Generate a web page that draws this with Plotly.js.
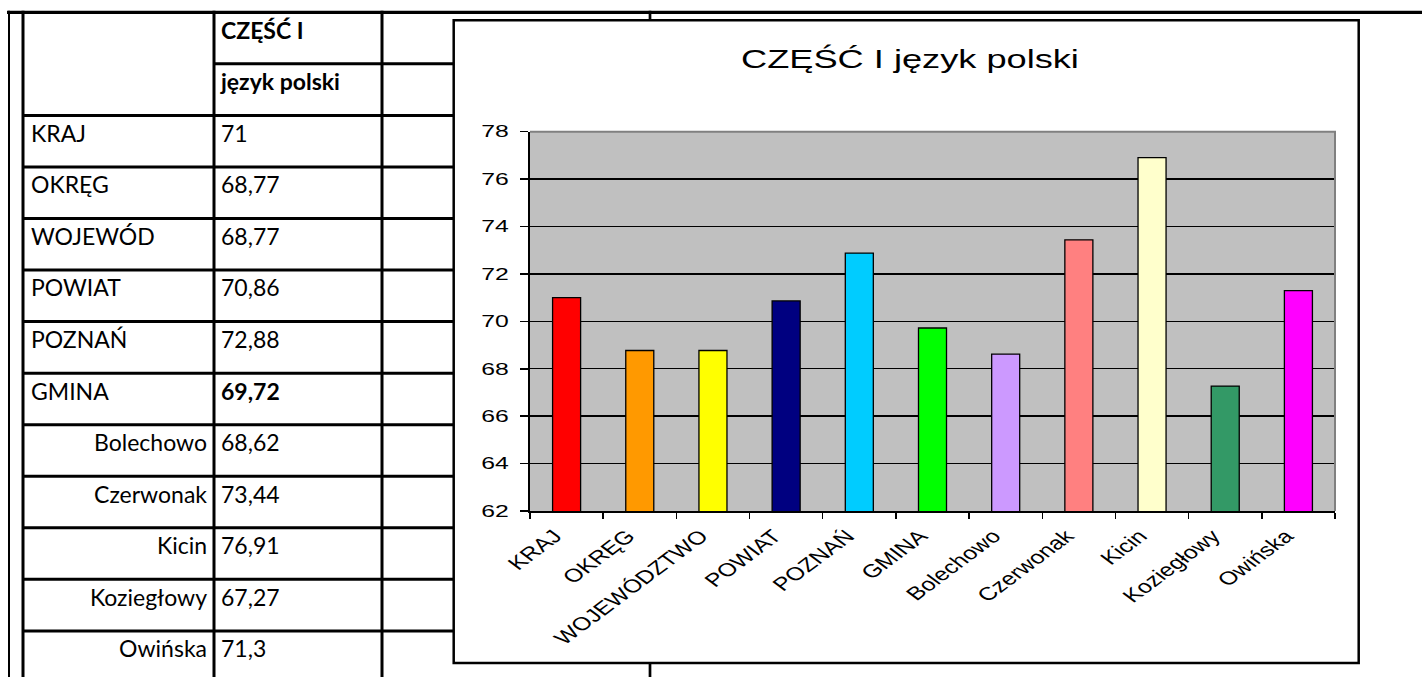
<!DOCTYPE html>
<html><head><meta charset="utf-8">
<script src="https://cdn.plot.ly/plotly-3.0.1.min.js"></script>
<style>html,body{margin:0;padding:0;background:#fff;overflow:hidden}</style>
</head><body>
<div id="chart" style="width:1422px;height:677px"></div>
<script>
// ---------------- data ----------------
const chartTitle = 'CZĘŚĆ I język polski';
const headerLines = ['CZĘŚĆ I', 'język polski'];
const categories = ['KRAJ', 'OKRĘG', 'WOJEWÓDZTWO', 'POWIAT', 'POZNAŃ', 'GMINA',
                    'Bolechowo', 'Czerwonak', 'Kicin', 'Koziegłowy', 'Owińska'];
const tableLabels = ['KRAJ', 'OKRĘG', 'WOJEWÓD', 'POWIAT', 'POZNAŃ', 'GMINA',
                     'Bolechowo', 'Czerwonak', 'Kicin', 'Koziegłowy', 'Owińska'];
const scores = [71, 68.77, 68.77, 70.86, 72.88, 69.72, 68.62, 73.44, 76.91, 67.27, 71.3];
const isGminaPart = [false, false, false, false, false, false, true, true, true, true, true];
const isBoldValue = [false, false, false, false, false, true, false, false, false, false, false];
const barColors = ['#FF0000', '#FF9900', '#FFFF00', '#000080', '#00CCFF', '#00FF00',
                   '#CC99FF', '#FF8080', '#FFFFCC', '#339966', '#FF00FF'];
const yRange = [62, 78];
const yStep = 2;

// ---------------- page geometry (style) ----------------
const W = 1422, H = 677;
const px = v => v / W;           // x pixel -> paper
const py = v => 1 - v / H;       // y pixel -> paper
const ROW_H = 51.55, ROW_TOP = 12.3;   // table row pitch
const HEADER_ROWS = headerLines.length;
const TOTAL_ROWS = HEADER_ROWS + tableLabels.length;
const COL = {outer: 9, left: 23, mid: 214, right3: 382, end: 650};
const TXT = {label: 31, subRight: 207, value: 221};
const tableFont = {family: 'Lato, "Open Sans", sans-serif', size: 23, color: '#000'};
const chartFontFamily = '"Liberation Sans", Arial, sans-serif';

const fmt = v => String(v).replace('.', ',');

// ---------------- traces ----------------
const bars = {
  type: 'bar', x: categories, y: scores, xaxis: 'x', yaxis: 'y',
  marker: {color: barColors, line: {color: '#000', width: 1.3}},
  hoverinfo: 'skip', showlegend: false
};

const rowY = i => HEADER_ROWS + i + 0.40;

const leftIdx = tableLabels.map((_, i) => i).filter(i => !isGminaPart[i]);
const rightIdx = tableLabels.map((_, i) => i).filter(i => isGminaPart[i]);

const labelLeft = {
  type: 'scatter', mode: 'text', xaxis: 'x2', yaxis: 'y2',
  x: leftIdx.map(() => TXT.label), y: leftIdx.map(rowY),
  text: leftIdx.map(i => tableLabels[i]), textposition: 'middle right',
  textfont: tableFont, cliponaxis: false, hoverinfo: 'skip', showlegend: false
};
const labelRight = {
  type: 'scatter', mode: 'text', xaxis: 'x2', yaxis: 'y2',
  x: rightIdx.map(() => TXT.subRight), y: rightIdx.map(rowY),
  text: rightIdx.map(i => tableLabels[i]), textposition: 'middle left',
  textfont: tableFont, cliponaxis: false, hoverinfo: 'skip', showlegend: false
};
const valueCol = {
  type: 'scatter', mode: 'text', xaxis: 'x2', yaxis: 'y2',
  x: headerLines.map(() => TXT.value).concat(scores.map(() => TXT.value)),
  y: headerLines.map((_, r) => r + 0.40).concat(scores.map((_, i) => rowY(i))),
  text: headerLines.map(h => '<b>' + h + '</b>')
        .concat(scores.map((v, i) => isBoldValue[i] ? '<b>' + fmt(v) + '</b>' : fmt(v))),
  textposition: 'middle right',
  textfont: tableFont, cliponaxis: false, hoverinfo: 'skip', showlegend: false
};

// ---------------- shapes ----------------
const shapes = [];
// horizontal table lines (row boundaries, on the row axis)
for (let k = 0; k <= TOTAL_ROWS; k++) {
  let x0 = COL.left, x1 = COL.end, w = 3;
  if (k === 0) { x0 = 7; x1 = W; w = 3.3; }
  else if (k === 1) { x0 = COL.mid; }
  shapes.push({type: 'line', xref: 'paper', yref: 'y2', x0: px(x0), x1: px(x1), y0: k, y1: k,
               line: {color: '#000', width: w}, layer: 'below'});
}
// vertical table lines
[[COL.outer, 2], [COL.left, 3], [COL.mid, 3], [COL.right3, 3], [COL.end, 2.7]].forEach(([x, w]) => {
  shapes.push({type: 'line', xref: 'paper', yref: 'y2', x0: px(x), x1: px(x), y0: -0.03, y1: TOTAL_ROWS + 0.5,
               line: {color: '#000', width: w}, layer: 'below'});
});
// chart frame (white box over the table)
shapes.push({type: 'rect', xref: 'paper', yref: 'paper', x0: px(453.7), x1: px(1358.7), y0: py(663), y1: py(20.3),
             fillcolor: '#fff', line: {color: '#000', width: 2.5}, layer: 'below'});
// plot-area fill
shapes.push({type: 'rect', xref: 'x domain', yref: 'y domain', x0: 0, x1: 1, y0: 0, y1: 1,
             fillcolor: '#C0C0C0', line: {width: 0}, layer: 'below'});
// plot-area top/right border (grey)
shapes.push({type: 'path', xref: 'x domain', yref: 'y domain', path: 'M0,1 L1,1 L1,0',
             line: {color: '#808080', width: 2}, layer: 'above'});

// ---------------- layout ----------------
const layout = {
  width: W, height: H, autosize: false,
  margin: {l: 0, r: 0, t: 0, b: 0, pad: 0},
  paper_bgcolor: '#fff', plot_bgcolor: 'rgba(0,0,0,0)',
  font: {family: chartFontFamily, color: '#000'},
  showlegend: false, hovermode: false, bargap: 0.617,
  title: {text: chartTitle, x: px(910), xref: 'paper', xanchor: 'center',
          y: py(59), yref: 'paper', yanchor: 'middle',
          font: {family: chartFontFamily, size: 25.5, color: '#000'}},
  xaxis: {domain: [px(530), px(1335)], anchor: 'y', type: 'category',
          categoryorder: 'array', categoryarray: categories,
          showline: true, linecolor: '#000', linewidth: 2,
          ticks: 'outside', tickson: 'boundaries', ticklen: 6, tickwidth: 1.5, tickcolor: '#000',
          showgrid: false, zeroline: false, tickangle: -45,
          tickfont: {family: chartFontFamily, size: 18.5, color: '#000'},
          ticklabelshift: -9, ticklabelstandoff: 5,
          automargin: false, fixedrange: true},
  yaxis: {domain: [py(511), py(131.7)], anchor: 'x', range: yRange, dtick: yStep, tick0: yRange[0],
          showline: true, linecolor: '#000', linewidth: 2,
          ticks: 'outside', ticklen: 8, tickwidth: 1.5, tickcolor: '#000',
          showgrid: true, gridcolor: '#000', gridwidth: 1.4, zeroline: false,
          tickfont: {family: chartFontFamily, size: 16.5, color: '#000'},
          ticklabelstandoff: 8, automargin: false, fixedrange: true},
  xaxis2: {domain: [0, 1], anchor: 'y2', range: [0, W], visible: false, fixedrange: true},
  yaxis2: {domain: [0, 1], anchor: 'x2', range: [(H - ROW_TOP) / ROW_H, -ROW_TOP / ROW_H],
           visible: false, fixedrange: true},
  shapes: shapes
};

function stretchText(gd, selector, s, anchor) {
  gd.querySelectorAll(selector).forEach(el => {
    const r = el.getBoundingClientRect();
    const p = el.parentNode.getScreenCTM();
    let ax = anchor === 'center' ? (r.left + r.right) / 2 : (anchor === 'right' ? r.right : r.left);
    ax = (ax - p.e) / p.a;
    const old = el.getAttribute('transform') || '';
    el.setAttribute('transform', 'matrix(' + s + ',0,0,1,' + ((1 - s) * ax) + ',0) ' + old);
  });
}

Plotly.newPlot('chart', [labelLeft, labelRight, valueCol, bars], layout,
               {staticPlot: true, displayModeBar: false, responsive: false})
  .then(gd => {
    // the source chart image is stretched horizontally
    stretchText(gd, 'text.gtitle', 1.42, 'center');
    stretchText(gd, '.yaxislayer-above .ytick text', 1.5, 'right');
    stretchText(gd, '.xaxislayer-above .xtick text', 1.34, 'right');
  });
</script>
</body></html>
